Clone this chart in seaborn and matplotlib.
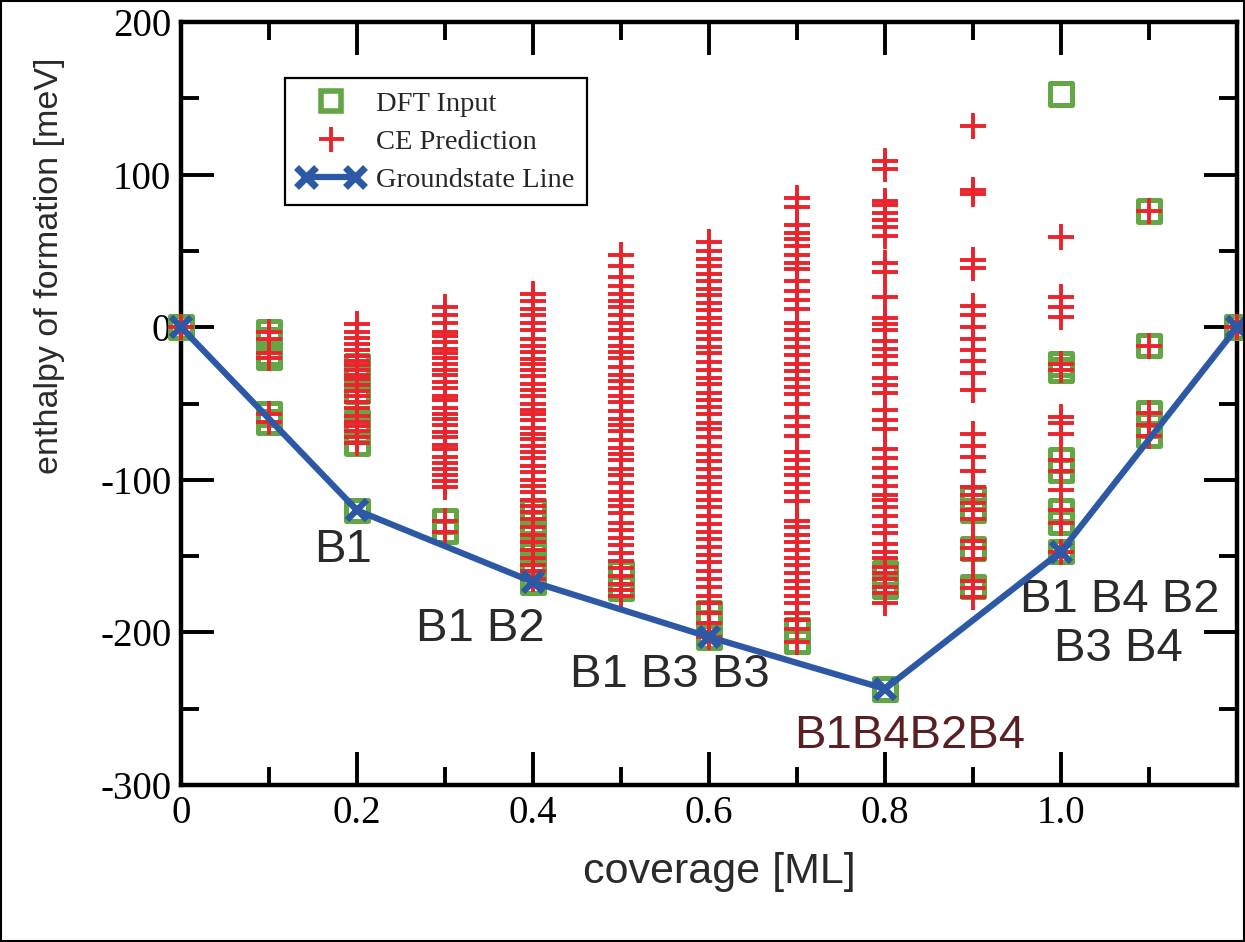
import matplotlib
matplotlib.use("Agg")
import matplotlib.pyplot as plt
import seaborn as sns
import pandas as pd
from matplotlib.lines import Line2D
from matplotlib.patches import Rectangle
from matplotlib.legend_handler import HandlerLine2D

# ---- data ----
# DFT input structures: coverage [ML] -> enthalpy [meV]
dft_x = ([0.0] + [0.1] * 6 + [0.2] * 7 + [0.3] * 2 + [0.4] * 7 + [0.5] * 2
         + [0.6] * 3 + [0.7] * 2 + [0.8] * 3 + [0.9] * 4 + [1.0] * 8
         + [1.1] * 5 + [1.2])
dft_y = ([0]
         + [-3, -8, -17, -20, -57, -62]
         + [-25, -33, -42, -62, -68, -76, -120]
         + [-127, -134]
         + [-120, -128, -135, -145, -155, -162, -167]
         + [-161, -171]
         + [-187, -194, -203]
         + [-198, -206]
         + [-161, -170, -237]
         + [-112, -120, -145, -170]
         + [153, -24, -28, -87, -94, -120, -128, -147]
         + [76, -12, -56, -64, -71]
         + [0])

# cluster expansion predictions, one list per coverage
ce_00 = [0]
ce_01 = [-3, -8, -17, -20, -57, -62]
ce_02 = [2, -3, -7, -11, -15, -19, -22, -25, -28, -31, -34, -38, -42, -45,
         -49, -53, -58, -62, -65, -68, -72, -76]
ce_03 = [13, 8, 3, -3, -6, -10, -14, -17, -20, -24, -28, -31, -36, -40, -45,
         -48, -53, -57, -60, -64, -69, -72, -77, -80, -85, -89, -93, -97,
         -101, -105, -127, -134]
ce_04 = [22, 17, 12, 8, 3, -2, -8, -12, -16, -21, -24, -28, -32, -37, -41,
         -45, -50, -54, -57, -61, -66, -70, -73, -78, -82, -86, -91, -95,
         -100, -104, -108, -113, -117, -121, -126, -131, -136, -141, -146,
         -151, -156, -160, -165]
ce_05 = [47, 40, 33, 27, 22, 17, 13, 8, 3, -2, -7, -12, -16, -20, -26, -31,
         -35, -40, -45, -49, -55, -60, -64, -68, -74, -79, -83, -87, -93,
         -97, -102, -108, -113, -117, -122, -128, -133, -138, -143, -148,
         -153, -158, -163, -168, -172, -176]
ce_06 = [56, 50, 45, 40, 35, 30, 25, 21, 16, 11, 6, 2, -3, -8, -13, -17, -23,
         -28, -33, -37, -43, -48, -52, -57, -63, -67, -72, -78, -83, -88,
         -93, -98, -103, -108, -113, -118, -124, -129, -134, -139, -144,
         -149, -154, -160, -165, -170, -176, -181, -187, -194, -203]
ce_07 = [85, 79, 67, 62, 58, 53, 47, 42, 38, 30, 24, 18, 12, 3, -2, -8, -13,
         -18, -24, -29, -34, -39, -44, -50, -59, -65, -71, -82, -87, -92,
         -97, -103, -108, -114, -127, -131, -136, -141, -146, -151, -156,
         -161, -166, -171, -176, -181, -187, -192, -198, -206]
ce_08 = [109, 104, 83, 80, 75, 70, 66, 60, 42, 36, 20, 6, 2, -2, -9, -14, -19,
         -24, -33, -38, -43, -54, -61, -67, -80, -86, -92, -98, -104, -110,
         -113, -118, -124, -130, -135, -142, -147, -151, -157, -161, -165,
         -170, -174, -181]
ce_09 = [132, 90, 87, 44, 39, 14, 8, 0, -8, -15, -22, -30, -41, -70, -78, -85,
         -94, -105, -110, -115, -120, -126, -140, -145, -152, -166, -171, -177]
ce_10 = [59, 20, 13, 7, -24, -28, -59, -63, -70, -87, -94, -107, -120, -128,
         -147]
ce_11 = [76, -12, -56, -64, -71]
ce_12 = [0]
ce_cols = [ce_00, ce_01, ce_02, ce_03, ce_04, ce_05, ce_06, ce_07, ce_08,
           ce_09, ce_10, ce_11, ce_12]
coverages = [0.0, 0.1, 0.2, 0.3, 0.4, 0.5, 0.6, 0.7, 0.8, 0.9, 1.0, 1.1, 1.2]

# groundstate line (convex hull)
gs_x = [0.0, 0.2, 0.4, 0.6, 0.8, 1.0, 1.2]
gs_y = [0, -120, -167, -203, -237, -147, 0]

# structure labels next to the hull points
label_text = ["B1", "B1 B2", "B1 B3 B3", "B1B4B2B4", "B1 B4 B2", "B3 B4"]
label_x = [0.184, 0.340, 0.556, 0.828, 1.067, 1.065]
label_y = [-146, -198, -228, -268, -179, -211]
label_color = ["#2a2a2a", "#2a2a2a", "#2a2a2a", "#5a1f22", "#2a2a2a", "#2a2a2a"]

x_ticks = [0.0, 0.2, 0.4, 0.6, 0.8, 1.0]
x_ticklabels = ["0", "0.2", "0.4", "0.6", "0.8", "1.0"]
y_ticks = [-300, -200, -100, 0, 100, 200]
y_ticklabels = ["-300", "-200", "-100", "0", "100", "200"]

GREEN = "#62a743"
RED = "#e9242b"
BLUE = "#2d58a6"

ce_df = pd.DataFrame({
    "coverage": [c for c, col in zip(coverages, ce_cols) for _ in col],
    "enthalpy": [v for col in ce_cols for v in col],
})
dft_df = pd.DataFrame({"coverage": dft_x, "enthalpy": dft_y})
gs_df = pd.DataFrame({"coverage": gs_x, "enthalpy": gs_y})

sns.set_style("ticks")
plt.rcParams["font.family"] = ["Liberation Serif", "DejaVu Serif"]
plt.rcParams["axes.unicode_minus"] = False
plt.rcParams["axes.edgecolor"] = "black"

fig = plt.figure(figsize=(12.45, 9.42), dpi=100)
ax = fig.add_axes([0.1454, 0.1667, 0.8482, 0.8099])

# DFT squares (open, green)
sns.scatterplot(data=dft_df, x="coverage", y="enthalpy", marker="s", s=240,
                color=GREEN, linewidth=3.6, ax=ax, legend=False, zorder=3,
                clip_on=False)
sq = ax.collections[-1]
sq.set_facecolor("none")
sq.set_edgecolor(GREEN)

# CE predictions (red plus)
sns.scatterplot(data=ce_df, x="coverage", y="enthalpy", marker="+", s=330,
                color=RED, linewidth=2.8, ax=ax, legend=False, zorder=4,
                clip_on=False)

# groundstate line
sns.lineplot(data=gs_df, x="coverage", y="enthalpy", color=BLUE, lw=4.5,
             marker="x", markersize=15, markeredgewidth=4.5,
             markeredgecolor=BLUE, markerfacecolor=BLUE, sort=False,
             ax=ax, legend=False, zorder=5, clip_on=False)

for t, lx, ly, lc in zip(label_text, label_x, label_y, label_color):
    ax.text(lx, ly, t, ha="center", va="center", fontsize=34, color=lc,
            family=["Liberation Sans", "DejaVu Sans"])

ax.set_xlim(0, 1.2)
ax.set_ylim(-300, 200)
ax.set_xticks(x_ticks)
ax.set_xticklabels(x_ticklabels)
ax.set_xticks([0.1, 0.3, 0.5, 0.7, 0.9, 1.1], minor=True)
ax.set_yticks(y_ticks)
ax.set_yticklabels(y_ticklabels)
ax.set_yticks([-250, -150, -50, 50, 150], minor=True)
ax.tick_params(which="both", direction="in", top=True, right=True,
               labelsize=28, colors="black")
ax.tick_params(which="major", length=24, width=2.8, pad=7)
ax.tick_params(which="minor", length=13, width=2.8)
for sp in ax.spines.values():
    sp.set_linewidth(3.2)
    sp.set_color("black")
    sp.set_visible(True)

ax.set_xlabel("coverage [ML]", fontsize=31, color="#2a2a2a",
              family=["Liberation Sans", "DejaVu Sans"])
ax.set_ylabel("enthalpy of formation [meV]", fontsize=24.5, color="#2a2a2a",
              family=["Liberation Sans", "DejaVu Sans"])
ax.xaxis.set_label_coords(0.51, -0.088)
ax.yaxis.set_label_coords(-0.11, 0.681)

handles = [
    Line2D([], [], ls="none", marker="s", ms=15, mfc="none", mec=GREEN,
           mew=4),
    Line2D([], [], ls="none", marker="+", ms=18, color=RED, mew=2.8),
    Line2D([], [], color=BLUE, lw=4.5, marker="x", ms=15, mew=5),
]
labels = ["DFT Input", "CE Prediction", "Groundstate Line"]
leg = ax.legend(handles, labels, loc="upper left",
                bbox_to_anchor=(0.0985, 0.9266), borderaxespad=0,
                fontsize=20.5, handlelength=2.3, handletextpad=0.45,
                labelspacing=0.42, borderpad=0.45, fancybox=False,
                framealpha=1, edgecolor="black",
                handler_map={handles[0]: HandlerLine2D(numpoints=1),
                             handles[1]: HandlerLine2D(numpoints=1),
                             handles[2]: HandlerLine2D(numpoints=2)})
leg.get_frame().set_linewidth(1.6)

fig.patches.append(Rectangle((0.001, 0.001), 0.998, 0.998,
                             transform=fig.transFigure, fill=False,
                             lw=1.5, ec="black"))

fig.savefig("out.png", dpi=100)
